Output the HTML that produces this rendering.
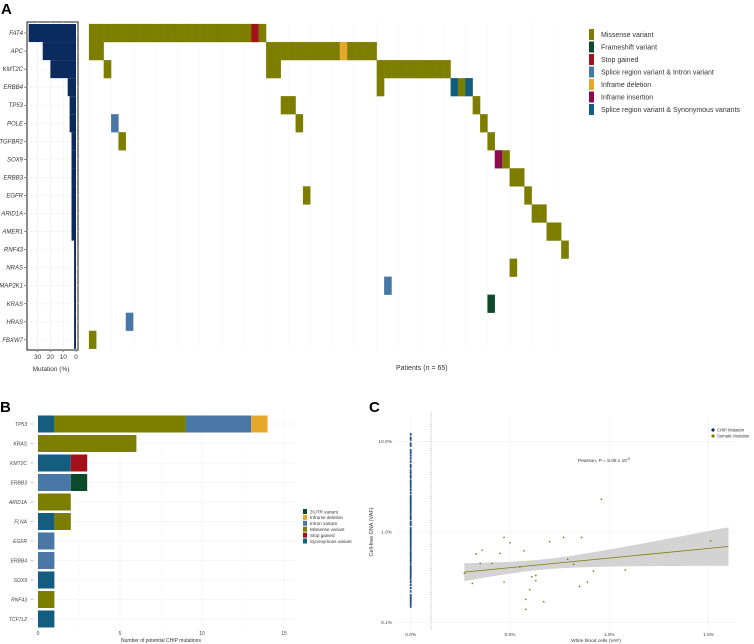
<!DOCTYPE html>
<html><head><meta charset="utf-8"><style>
html,body{margin:0;padding:0;background:#fff}
svg{display:block;font-family:"Liberation Sans",Arial,sans-serif}
</style></head><body>
<svg id="fig" width="754" height="644" viewBox="0 0 754 644">
<g id="A"></g>
<g id="B"></g>
<g id="C"></g>
</svg>
<script>
// ---------- Panel A data ----------
const genesA = ["FAT4","APC","KMT2C","ERBB4","TP53","POLE","TGFBR2","SOX9","ERBB3","EGFR","ARID1A","AMER1","RNF43","NRAS","MAP2K1","KRAS","HRAS","FBXW7"];
const mutPct = [37,26,20,6.5,5,5,3.5,3.5,3.5,3.5,3.5,3.5,1.5,1.5,1.5,1.5,1.5,1.5];
const pctTicks = [30,20,10,0];
// cells: [geneIndex, patientIndex, variantIndex]
const cellsA = [
 ...Array.from({length:24},(_, i)=>[0,i,i===22?2:0]),
 [1,0,0],[1,1,0],
 ...Array.from({length:15},(_, i)=>[1,24+i,(24+i)===34?4:0]),
 [2,2,0],[2,24,0],[2,25,0],
 ...Array.from({length:10},(_, i)=>[2,39+i,0]),
 [3,39,0],[3,49,6],[3,50,0],[3,51,6],
 [4,26,0],[4,27,0],[4,52,0],
 [5,3,3],[5,28,0],[5,53,0],
 [6,4,0],[6,54,0],
 [7,55,5],[7,56,0],
 [8,57,0],[8,58,0],
 [9,29,0],[9,59,0],
 [10,60,0],[10,61,0],
 [11,62,0],[11,63,0],
 [12,64,0],
 [13,57,0],
 [14,40,3],
 [15,54,1],
 [16,5,3],
 [17,0,0]
];
const variantsA = ["Missense variant","Frameshift variant","Stop gained","Splice region variant & Intron variant","Inframe deletion","Inframe insertion","Splice region variant & Synonymous variants"];
const colorsA = ["#7d7d00","#0d4a2b","#a3121a","#4a78a6","#e6a82a","#8a0c4c","#135e80"];
const nPatients = 65;

// ---------- Panel B data ----------
const genesB = ["TP53","KRAS","KMT2C","ERBB3","ARID1A","FLNA","EGFR","ERBB4","SOX9","RNF43","TCF7L2"];
const variantsB = ["3'UTR variant","Inframe deletion","Intron variant","Missense variant","Stop gained","Synonymous variant"];
const colorsB = ["#0d4a2b","#e6a82a","#4a78a6","#7d7d00","#a3121a","#135e80"];
const bSyn      = [1,0,2,0,0,1,0,0,1,0,1];
const bMissense = [8,6,0,0,2,1,0,0,0,1,0];
const bIntron   = [4,0,0,2,0,0,1,1,0,0,0];
const bStop     = [0,0,1,0,0,0,0,0,0,0,0];
const bUtr      = [0,0,0,1,0,0,0,0,0,0,0];
const bDel      = [1,0,0,0,0,0,0,0,0,0,0];
const bTicks = [0,5,10,15];

// ---------- Panel C data ----------
const somX = [0.27,0.31,0.33,0.36,0.35,0.41,0.45,0.47,0.47,0.50,0.55,0.57,0.58,0.58,0.60,0.61,0.63,0.63,0.67,0.70,0.77,0.79,0.82,0.85,0.86,0.89,0.92,0.96,1.08,1.51];
const somY = [0.35,0.27,0.57,0.63,0.45,0.45,0.58,0.28,0.87,0.76,0.41,0.62,0.18,0.14,0.23,0.32,0.33,0.29,0.17,0.78,0.87,0.50,0.44,0.25,0.87,0.28,0.37,2.3,0.38,0.80];
const chipY = [12,11,10.5,9.5,9,8,7.5,7,6.5,6,5.5,5.2,4.8,4.5,4.2,4,3.7,3.5,3.3,3.1,2.9,2.7,2.5,2.4,2.3,2.2,2.1,2,1.9,1.8,1.7,1.6,1.5,1.45,1.4,1.3,1.25,1.2,1.1,1.05,1.0,0.95,0.9,0.85,0.8,0.76,0.72,0.68,0.64,0.6,0.57,0.54,0.51,0.48,0.45,0.42,0.4,0.38,0.36,0.34,0.32,0.3,0.28,0.26,0.24,0.22,0.2,0.19,0.18,0.17,0.16,0.15];
const cYTicks = [0.1,1,10];
const cYLabels = ["0.1%","1.0%","10.0%"];
const cXTicks = [0,0.5,1,1.5];
const cXLabels = ["0.0%","0.5%","1.0%","1.5%"];

const NS="http://www.w3.org/2000/svg";
function mk(parent,tag,attrs,text){const e=document.createElementNS(NS,tag);for(const k in attrs)e.setAttribute(k,attrs[k]);if(text!==undefined)e.textContent=text;parent.appendChild(e);return e;}

// ===== Panel A =====
const A=document.getElementById('A');
let t=mk(A,'text',{x:1,y:14,'font-size':15,'font-weight':'bold'},'A');

const rowTop=24,rowH=18.05;
const rowY=i=>rowTop+i*rowH;
const colX=j=>89+j*7.38, colW=7.38;
const pctX=v=>76-v*1.28;
let box=mk(A,'rect',{x:27,y:22,width:51,height:328,fill:'#fff',stroke:'#1a1a1a','stroke-width':1});

pctTicks.forEach(v=>{mk(A,'line',{x1:pctX(v),x2:pctX(v),y1:22,y2:350,stroke:'#eee','stroke-width':0.6});});
genesA.forEach((g,i)=>{
 const y=rowY(i);
 mk(A,'line',{x1:27,x2:78,y1:y+rowH/2,y2:y+rowH/2,stroke:'#f0f0f0','stroke-width':0.6});
 const b=mk(A,'rect',{x:pctX(mutPct[i]),y:y,width:pctX(0)-pctX(mutPct[i]),height:rowH,fill:'#0b2a5e'});
 
 const l=mk(A,'text',{x:23,y:y+rowH/2+2,'font-size':6,'font-style':'italic','text-anchor':'end',fill:'#333'},g);
 
 mk(A,'line',{x1:24,x2:27,y1:y+rowH/2,y2:y+rowH/2,stroke:'#333','stroke-width':0.5});
});
pctTicks.forEach(v=>{
 mk(A,'line',{x1:pctX(v),x2:pctX(v),y1:350,y2:352,stroke:'#333','stroke-width':0.5});
 const l=mk(A,'text',{x:pctX(v),y:359,'font-size':6.5,'text-anchor':'middle',fill:'#333'},String(v));
 
});
t=mk(A,'text',{x:51,y:371,'font-size':6.5,'text-anchor':'middle',fill:'#333'},'Mutation (%)');

for(let j=0;j<=nPatients;j+=3){mk(A,'line',{x1:colX(j),x2:colX(j),y1:22,y2:350,stroke:'#f4f4f4','stroke-width':0.5});}
cellsA.forEach(c=>{
 const r=mk(A,'rect',{x:colX(c[1]),y:rowY(c[0]),width:colW,height:rowH,fill:colorsA[c[2]],stroke:colorsA[c[2]],'stroke-width':0.2});
 
});
t=mk(A,'text',{x:396,y:370,'font-size':7,fill:'#333'});

t.innerHTML='Patients (<tspan font-style="italic">n</tspan> = 65)';
variantsA.forEach((v,i)=>{
 const y=29+i*12.5;
 const s=mk(A,'rect',{x:589,y:y,width:5,height:11,fill:colorsA[i]});
 
 const l=mk(A,'text',{x:601,y:y+8,'font-size':7,fill:'#333'},v);
 
});

// ===== Panel B =====
const B=document.getElementById('B');
t=mk(B,'text',{x:0,y:412,'font-size':15,'font-weight':'bold'},'B');

const bx=v=>38+v*16.4;
const by=i=>424+i*19.5;
bTicks.forEach(v=>{mk(B,'line',{x1:bx(v),x2:bx(v),y1:412,y2:630,stroke:'#eee','stroke-width':0.6});
 const l=mk(B,'text',{x:bx(v),y:635,'font-size':5,'text-anchor':'middle',fill:'#444'},String(v));
 });
bTicks.slice(0,3).forEach(v=>{mk(B,'line',{x1:bx(v+2.5),x2:bx(v+2.5),y1:412,y2:630,stroke:'#f6f6f6','stroke-width':0.5});});
const stackOrder=[[bSyn,5],[bMissense,3],[bIntron,2],[bStop,4],[bUtr,0],[bDel,1]];
genesB.forEach((g,i)=>{
 const y=by(i);
 mk(B,'line',{x1:30,x2:296,y1:y,y2:y,stroke:'#eee','stroke-width':0.6});
 const l=mk(B,'text',{x:27,y:y+2,'font-size':5,'font-style':'italic','text-anchor':'end',fill:'#444'},g);
 
 mk(B,'line',{x1:31,x2:33,y1:y,y2:y,stroke:'#666','stroke-width':0.4});
 let acc=0;
 stackOrder.forEach(([arr,ci])=>{
  const v=arr[i]; if(!v) return;
  const r=mk(B,'rect',{x:bx(acc),y:y-8.5,width:bx(acc+v)-bx(acc),height:17,fill:colorsB[ci]});
  
  acc+=v;
 });
});
t=mk(B,'text',{x:161,y:642,'font-size':5,'text-anchor':'middle',fill:'#333'},'Number of potential CHIP mutations');

variantsB.forEach((v,i)=>{
 const y=509+i*5.9;
 const s=mk(B,'rect',{x:303,y:y,width:4,height:5,fill:colorsB[i]});
 
 const l=mk(B,'text',{x:310,y:y+4.3,'font-size':4.6,fill:'#333'},v);
 
});

// ===== Panel C =====
const C=document.getElementById('C');
t=mk(C,'text',{x:369,y:412,'font-size':15,'font-weight':'bold'},'C');

const cx=v=>410.7+v*198.6;
const cy=v=>532-Math.log10(v)*90.5;
cXTicks.forEach((v,i)=>{mk(C,'line',{x1:cx(v),x2:cx(v),y1:415,y2:630,stroke:'#eee','stroke-width':0.6});
 const l=mk(C,'text',{x:cx(v),y:636,'font-size':4.8,'text-anchor':'middle',fill:'#444'},cXLabels[i]);
 });
cYTicks.forEach((v,i)=>{mk(C,'line',{x1:395,x2:735,y1:cy(v),y2:cy(v),stroke:'#eee','stroke-width':0.6});
 const l=mk(C,'text',{x:392,y:cy(v)+1.7,'font-size':4.8,'text-anchor':'end',fill:'#444'},cYLabels[i]);
 });
mk(C,'line',{x1:431,x2:431,y1:412,y2:630,stroke:'#aaa','stroke-width':0.8,'stroke-dasharray':'1.2,1.2'});
const n=somX.length, ly=somY.map(v=>Math.log10(v));
const mx=somX.reduce((a,b)=>a+b)/n, my=ly.reduce((a,b)=>a+b)/n;
let sxx=0,sxy=0;somX.forEach((x,i)=>{sxx+=(x-mx)**2;sxy+=(x-mx)*(ly[i]-my);});
const slope=sxy/sxx, icpt=my-slope*mx;
let sse=0;somX.forEach((x,i)=>{sse+=(ly[i]-icpt-slope*x)**2;});
const s=Math.sqrt(sse/(n-2));
const x0=Math.min(...somX), x1=1.6;
const up=[],lo=[];
for(let k=0;k<=40;k++){const x=x0+(x1-x0)*k/40;const f=icpt+slope*x;const hw=1.2*s*Math.sqrt(1/n+(x-mx)**2/sxx);
 up.push(cx(x)+','+(532-(f+hw)*90.5));lo.unshift(cx(x)+','+(532-(f-hw)*90.5));}
let band=mk(C,'polygon',{points:up.concat(lo).join(' '),fill:'#d3d3d3'});

let rl=mk(C,'line',{x1:cx(x0),y1:532-(icpt+slope*x0)*90.5,x2:cx(x1),y2:532-(icpt+slope*x1)*90.5,stroke:'#7d7d00','stroke-width':0.8});

chipY.forEach(v=>{const p=mk(C,'rect',{x:cx(0)-0.9,y:cy(v)-1.2,width:1.8,height:2.4,fill:'#1d4f8a'});
 });
somX.forEach((x,i)=>{const p=mk(C,'circle',{cx:cx(x),cy:cy(somY[i]),r:0.8,fill:'#6d6d10'});
 });
t=mk(C,'text',{x:578,y:462,'font-size':4.8,fill:'#333'});

t.innerHTML='Pearson, <tspan font-style="italic">P</tspan> = 5.06 x 10<tspan dy="-2" font-size="3.2">-5</tspan>';
t=mk(C,'text',{x:0,y:0,'font-size':5.5,'text-anchor':'middle',fill:'#333',transform:'translate(373,532) rotate(-90)'},'Cell-free DNA (VAF)');

t=mk(C,'text',{x:596,y:642,'font-size':4.8,'text-anchor':'middle',fill:'#333'},'White blood cells (VAF)');

[['CHIP Mutation','#0b2a5e'],['Somatic Mutation','#7d7d00']].forEach((e,i)=>{
 const y=430+i*6;
 const d=mk(C,'circle',{cx:713,cy:y,r:1.6,fill:e[1]});
 
 const l=mk(C,'text',{x:717,y:y+1.5,'font-size':4.2,fill:'#333'},e[0]);
 
});
</script>
</body></html>
